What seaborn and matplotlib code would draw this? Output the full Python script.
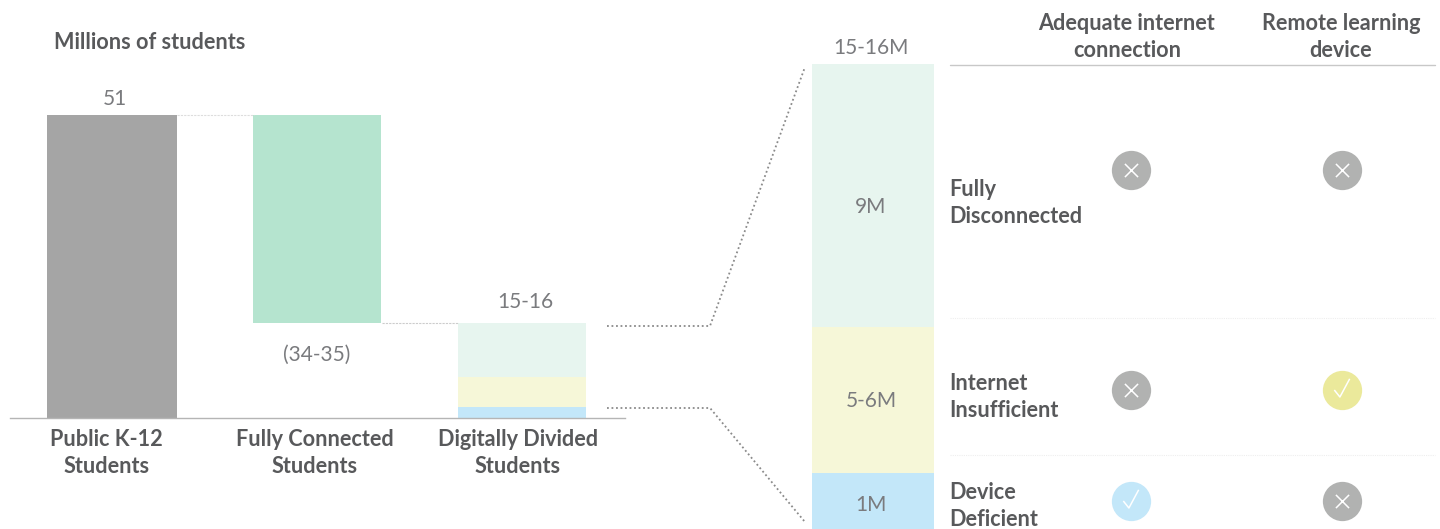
import matplotlib
matplotlib.use("Agg")
import matplotlib.pyplot as plt
from matplotlib.path import Path
import numpy as np
import pandas as pd
import seaborn as sns

W, H = 1440, 529

#Waterfall data, millions of students
categories = ["Public K-12\nStudents", "Fully Connected\nStudents", "Digitally Divided\nStudents"]
totalStudents = [51]
connectedStudents = [35]
segmentNames = ["Fully\nDisconnected", "Internet\nInsufficient", "Device\nDeficient"]
segmentValues = [9.05, 5.02, 1.93]
segmentLabels = ["9M", "5-6M", "1M"]
columnNames = ["Adequate internet\nconnection", "Remote learning\ndevice"]
#1 = has it, 0 = does not, one list per column
hasInternet = [0, 0, 1]
hasDevice = [0, 1, 0]

GREY = "#a5a5a5"
GREEN = "#b5e4cf"
SEGMENT_COLORS = ["#e7f5ef", "#f6f7d8", "#c3e7f9"]
STATUS_NO = "#b1b2b1"
STATUS_YES = {1: "#ebe99b", 2: "#c3e7f9"}
BOLD_TEXT = "#58595b"
LIGHT_TEXT = "#7a7b7e"
BOLD_SIZE = 15.6

sns.set_theme(style="white")
plt.rcParams['font.family'] = ['Lato', 'DejaVu Sans']

fig = plt.figure(figsize=(W / 100, H / 100), dpi=100)

def axesAt(left, top, right, bottom):
    return fig.add_axes([left / W, 1 - bottom / H, (right - left) / W, (bottom - top) / H])

#Left waterfall
ax = axesAt(10, 100, 625, 418)
pxPerUnit = 303 / 51
barWidth = 128 / 205
sns.barplot(x=[categories[0]], y=totalStudents, order=categories, color=GREY, saturation=1, width=130 / 205, linewidth=0, ax=ax)
sns.barplot(x=[categories[1]], y=connectedStudents, order=categories, color=GREEN, saturation=1, width=barWidth,
            bottom=totalStudents[0] - connectedStudents[0], linewidth=0, ax=ax)
base = 0
for value, color in zip(segmentValues[::-1], SEGMENT_COLORS[::-1]):
    sns.barplot(x=[categories[2]], y=[value], order=categories, color=color, saturation=1, width=barWidth,
                bottom=base, linewidth=0, ax=ax)
    base += value
ax.set_xlim(-102 / 205, 513 / 205)
ax.set_ylim(0, 318 / pxPerUnit)
ax.set_xticks([-0.025, 0.99, 1.98], categories)
ax.tick_params(axis='x', length=0, pad=8)
for label in ax.get_xticklabels():
    label.set_fontsize(BOLD_SIZE)
    label.set_fontweight('bold')
    label.set_color(BOLD_TEXT)
    label.set_linespacing(1.32)
ax.set_yticks([])
ax.set_xlabel("")
ax.set_ylabel("")
sns.despine(ax=ax, left=True)
ax.spines['bottom'].set_color("#b5b5b5")
ax.spines['bottom'].set_linewidth(1)

#Right stacked bar
axBar = axesAt(812, 64, 934, 529)
base = 0
for value, color in zip(segmentValues[::-1], SEGMENT_COLORS[::-1]):
    sns.barplot(x=["divided"], y=[value], color=color, saturation=1, width=1, bottom=base, linewidth=0, ax=axBar)
    base += value
axBar.set_xlim(-0.5, 0.5)
axBar.set_ylim(0, sum(segmentValues))
axBar.axis('off')

#Overlay in pixel coordinates for annotations and the status table
over = fig.add_axes([0, 0, 1, 1], facecolor='none')
over.set_xlim(0, W)
over.set_ylim(H, 0)
over.axis('off')

def light(x, y, text):
    over.text(x, y, text, ha='center', va='center', fontsize=15, color=LIGHT_TEXT, fontweight='normal')

def bold(x, y, text, ha='left'):
    over.text(x, y, text, ha=ha, va='center', fontsize=BOLD_SIZE, color=BOLD_TEXT, fontweight='bold', linespacing=1.32)

bold(54, 42.5, "Millions of students")
light(115, 99, "51")
light(317, 355, "(34-35)")
light(525, 302, "15-16")
light(871, 48, "15-16M")
for y, text in zip([207, 401, 505], segmentLabels):
    light(871, y, text)

#Waterfall connectors
over.plot([177, 254], [115, 115], color="#dddddd", lw=0.8, ls=(0, (2, 1)))
over.plot([382, 458], [323, 323], color="#cccccc", lw=0.8, ls=(0, (2, 1)))

#Zoom connectors
over.plot([607, 710, 805], [326, 326, 67], color="#8a8a8a", lw=1.3, ls=(0, (1, 1.5)))
over.plot([607, 710, 805], [408, 408, 522], color="#8a8a8a", lw=1.3, ls=(0, (1, 1.5)))

#Table rules
over.plot([950, 1435], [65, 65], color="#c8c8c8", lw=1)
for y in [318, 455]:
    over.plot([950, 1435], [y, y], color="#eeeeee", lw=0.8, ls=(0, (1, 1)))

#Table headers and row names
for x, text in zip([1127, 1341], columnNames):
    bold(x, 37, text, ha='center')
rowY = [170, 390, 501]
for y, text in zip([203, 397, 506], segmentNames):
    bold(949, y, text)

#Status circles
colX = [1131, 1342]
checkMark = Path([(-0.55, 0.0), (-0.15, -0.5), (0.55, 0.8)], [Path.MOVETO, Path.LINETO, Path.LINETO])
for x, column in zip(colX, [hasInternet, hasDevice]):
    for row, status in enumerate(column):
        color = STATUS_YES.get(row) if status else STATUS_NO
        sns.scatterplot(x=[x], y=[rowY[row]], color=color, s=800, linewidth=0, ax=over, legend=False)
        if status:
            over.scatter([x], [rowY[row]], marker=checkMark, s=260, facecolors='none', edgecolors='white', linewidths=1.1)
        else:
            over.scatter([x], [rowY[row]], marker='x', s=90, color='white', linewidths=1.1)
over.set_xlim(0, W)
over.set_ylim(H, 0)

fig.savefig("out.png", dpi=100)
